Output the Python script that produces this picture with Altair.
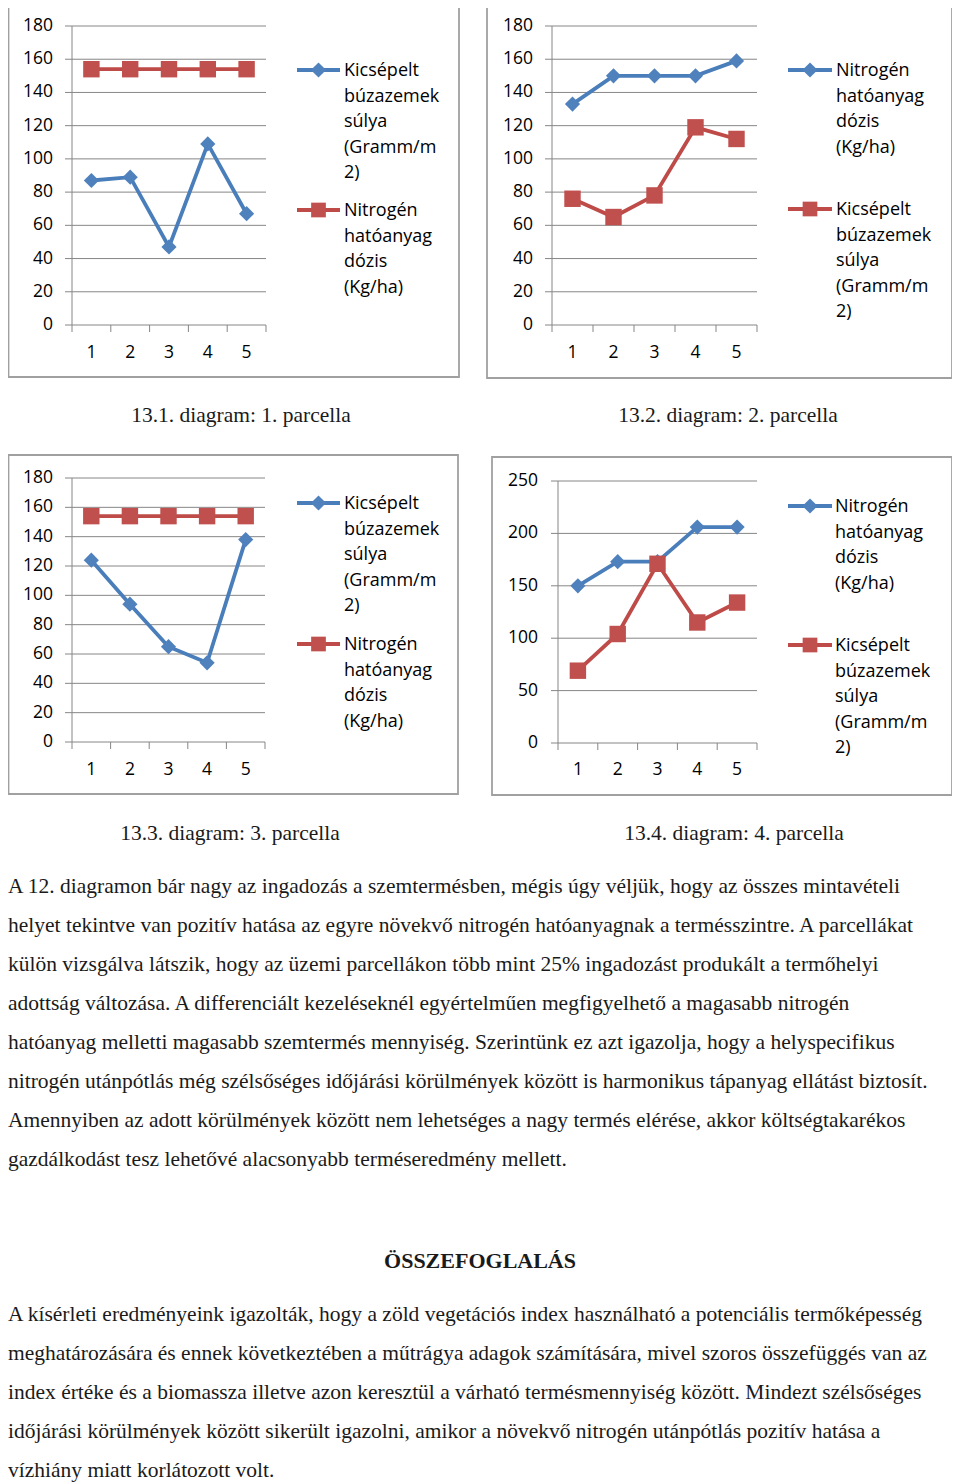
import altair as alt
import pandas as pd

# ---------------- data ----------------
parcels = [1, 2, 3, 4, 5]

p1_buza = [87, 89, 47, 109, 67]
p1_nitrogen = [154, 154, 154, 154, 154]

p2_nitrogen = [133, 150, 150, 150, 159]
p2_buza = [76, 65, 78, 119, 112]

p3_buza = [124, 94, 65, 54, 138]
p3_nitrogen = [154, 154, 154, 154, 154]

p4_nitrogen = [150, 173, 173, 206, 206]
p4_buza = [69, 104, 171, 115, 134]

ticks_180 = [0, 20, 40, 60, 80, 100, 120, 140, 160, 180]
ticks_250 = [0, 50, 100, 150, 200, 250]
band_edges = [0.5, 1.5, 2.5, 3.5, 4.5, 5.5]

label_buza = "Kicsépelt\nbúzazemek\nsúlya\n(Gramm/m\n2)"
label_nitrogen = "Nitrogén\nhatóanyag\ndózis\n(Kg/ha)"

captions = [
    "13.1. diagram: 1. parcella",
    "13.2. diagram: 2. parcella",
    "13.3. diagram: 3. parcella",
    "13.4. diagram: 4. parcella",
]

paragraph1 = [
    "A 12. diagramon bár nagy az ingadozás a szemtermésben, mégis úgy véljük, hogy az összes mintavételi",
    "helyet tekintve van pozitív hatása az egyre növekvő nitrogén hatóanyagnak a termésszintre. A parcellákat",
    "külön vizsgálva látszik, hogy az üzemi parcellákon több mint 25% ingadozást produkált a termőhelyi",
    "adottság változása. A differenciált kezeléseknél egyértelműen megfigyelhető a magasabb nitrogén",
    "hatóanyag melletti magasabb szemtermés mennyiség. Szerintünk ez azt igazolja, hogy a helyspecifikus",
    "nitrogén utánpótlás még szélsőséges időjárási körülmények között is harmonikus tápanyag ellátást biztosít.",
    "Amennyiben az adott körülmények között nem lehetséges a nagy termés elérése, akkor költségtakarékos",
    "gazdálkodást tesz lehetővé alacsonyabb terméseredmény mellett.",
]
heading = "ÖSSZEFOGLALÁS"
paragraph2 = [
    "A kísérleti eredményeink igazolták, hogy a zöld vegetációs index használható a potenciális termőképesség",
    "meghatározására és ennek következtében a műtrágya adagok számítására, mivel szoros összefüggés van az",
    "index értéke és a biomassza illetve azon keresztül a várható termésmennyiség között. Mindezt szélsőséges",
    "időjárási körülmények között sikerült igazolni, amikor a növekvő nitrogén utánpótlás pozitív hatása a",
    "vízhiány miatt korlátozott volt.",
]

# ---------------- styling / layout ----------------
M = 8  # page margin: page coords -> chart coords
BLUE_LINE, BLUE_FILL = "#4A7EBB", "#4F81BD"
RED_LINE, RED_FILL = "#BE4B48", "#C0504D"
GRID = "#868686"
BORDER = "#A0A0A0"
SANS = "Open Sans"
SERIF = "Liberation Serif"
FS_TICK = 17.5
FS_LEG = 18
LW = 3.8

geoms = [
    dict(x0=72, x1=266, yt=26, y0=325, bl=8.5, br=459, bt=3, bb=377, lr=53, xl=353,
         lx0=297, lx1=340, tx=344, e1=70, e2=210),
    dict(x0=552, x1=757, yt=26, y0=325, bl=487, br=952, bt=3, bb=378, lr=533, xl=353,
         lx0=788, lx1=832, tx=836, e1=70, e2=209),
    dict(x0=72, x1=265, yt=478, y0=742, bl=8.5, br=458, bt=455, bb=794, lr=53, xl=770,
         lx0=297, lx1=340, tx=344, e1=503, e2=644),
    dict(x0=558, x1=757, yt=481, y0=743, bl=492, br=952, bt=457, bb=795, lr=538, xl=770,
         lx0=788, lx1=832, tx=835, e1=506, e2=645),
]


def v(p):
    return alt.value(p - M)


def panel(g, ticks, ymax, blue, red):
    xs = alt.Scale(domain=[0.5, 5.5], range=[g["x0"] - M, g["x1"] - M], nice=False, zero=False)
    ys = alt.Scale(domain=[0, ymax], range=[g["y0"] - M, g["yt"] - M], nice=False, zero=False)
    one = pd.DataFrame({"k": [0]})
    tick_df = pd.DataFrame({"t": ticks})
    edge_df = pd.DataFrame({"b": band_edges})
    cat_df = pd.DataFrame({"parcel": parcels})

    layers = [
        alt.Chart(one).mark_rect(fill="white", stroke=BORDER, strokeWidth=1.8).encode(
            x=v(g["bl"]), x2=v(g["br"]), y=v(g["bt"]), y2=v(g["bb"])),
        alt.Chart(tick_df).mark_rule(color=GRID, strokeWidth=1).encode(
            y=alt.Y("t:Q", scale=ys, axis=None), x=v(g["x0"] - 7), x2=v(g["x1"])),
        alt.Chart(tick_df).mark_text(align="right", baseline="middle", font=SANS,
                                     fontSize=FS_TICK, color="black").encode(
            y=alt.Y("t:Q", scale=ys, axis=None), x=v(g["lr"]), text="t:Q"),
        alt.Chart(one).mark_rule(color=GRID, strokeWidth=1).encode(
            x=v(g["x0"]), y=v(g["yt"]), y2=v(g["y0"])),
        alt.Chart(edge_df).mark_rule(color=GRID, strokeWidth=1).encode(
            x=alt.X("b:Q", scale=xs, axis=None), y=v(g["y0"]), y2=v(g["y0"] + 7)),
        alt.Chart(cat_df).mark_text(align="center", baseline="middle", font=SANS,
                                    fontSize=FS_TICK, color="black").encode(
            x=alt.X("parcel:Q", scale=xs, axis=None), y=v(g["xl"]), text="parcel:Q"),
    ]

    entries = [
        (blue, BLUE_LINE, BLUE_FILL, "diamond", 230, 1.0, g["e1"]),
        (red, RED_LINE, RED_FILL, "square", 270, 0.8, g["e2"]),
    ]
    for (label, vals), lc, fc, shape, size, lf, ey in entries:
        df = pd.DataFrame({"parcel": parcels, "value": vals})
        enc = dict(x=alt.X("parcel:Q", scale=xs, axis=None),
                   y=alt.Y("value:Q", scale=ys, axis=None))
        layers.append(alt.Chart(df).mark_line(color=lc, strokeWidth=LW).encode(**enc))
        layers.append(alt.Chart(df).mark_point(shape=shape, filled=True, size=size,
                                               color=fc, opacity=1).encode(**enc))
        # legend entry
        layers.append(alt.Chart(one).mark_rule(color=lc, strokeWidth=LW).encode(
            x=v(g["lx0"]), x2=v(g["lx1"]), y=v(ey)))
        layers.append(alt.Chart(one).mark_point(shape=shape, filled=True, size=size * lf,
                                                color=fc, opacity=1).encode(
            x=v((g["lx0"] + g["lx1"]) / 2), y=v(ey)))
        layers.append(alt.Chart(pd.DataFrame({"label": [label]})).mark_text(
            align="left", baseline="top", lineBreak="\n", lineHeight=25.5,
            font=SANS, fontSize=FS_LEG, color="black").encode(
            x=v(g["tx"]), y=v(ey - 0.43 * FS_LEG), text="label:N"))
    return alt.layer(*layers)


panels = [
    panel(geoms[0], ticks_180, 180, (label_buza, p1_buza), (label_nitrogen, p1_nitrogen)),
    panel(geoms[1], ticks_180, 180, (label_nitrogen, p2_nitrogen), (label_buza, p2_buza)),
    panel(geoms[2], ticks_180, 180, (label_buza, p3_buza), (label_nitrogen, p3_nitrogen)),
    panel(geoms[3], ticks_250, 250, (label_nitrogen, p4_nitrogen), (label_buza, p4_buza)),
]

# captions and body text
TXT = "#1a1a1a"
cap_pos = [(241, 416), (728, 416), (230, 834), (734, 834)]
text_layers = []
for cap, (cx, cy) in zip(captions, cap_pos):
    text_layers.append(alt.Chart(pd.DataFrame({"c": [cap]})).mark_text(
        align="center", baseline="middle", font=SERIF, fontSize=21.5, color=TXT).encode(
        x=v(cx), y=v(cy), text="c:N"))

SERIF_FS = 21.5
text_layers.append(alt.Chart(pd.DataFrame({"p": ["\n".join(paragraph1)]})).mark_text(
    align="left", baseline="top", lineBreak="\n", lineHeight=39, font=SERIF,
    fontSize=SERIF_FS, color=TXT).encode(
    x=v(8), y=v(885 - 0.43 * SERIF_FS), text="p:N"))
text_layers.append(alt.Chart(pd.DataFrame({"h": [heading]})).mark_text(
    align="center", baseline="middle", font=SERIF, fontSize=22, fontWeight="bold",
    color=TXT).encode(x=v(480), y=v(1261), text="h:N"))
text_layers.append(alt.Chart(pd.DataFrame({"p": ["\n".join(paragraph2)]})).mark_text(
    align="left", baseline="top", lineBreak="\n", lineHeight=39, font=SERIF,
    fontSize=SERIF_FS, color=TXT).encode(
    x=v(8), y=v(1313 - 0.43 * SERIF_FS), text="p:N"))

chart = alt.layer(*panels, *text_layers).resolve_scale(
    x="independent", y="independent"
).properties(
    width=944, height=1476, autosize=alt.AutoSizeParams(type="none"), padding=0,
    background="white"
).configure_view(strokeWidth=0)

chart.save("out.html", embed_options={"renderer": "svg", "actions": False})
